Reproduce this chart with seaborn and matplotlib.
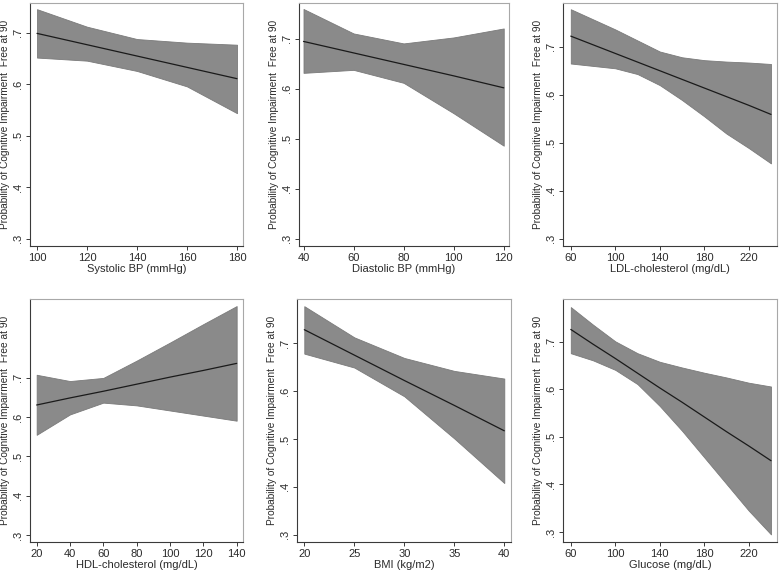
import numpy as np
import pandas as pd
import matplotlib
matplotlib.use("Agg")
import matplotlib.pyplot as plt
import seaborn as sns

# ---------------- data ----------------
ylabel_text = "Probability of Cognitive Impairment  Free at 90"
ytick_vals = [0.3, 0.4, 0.5, 0.6, 0.7]
ytick_labels = [".3", ".4", ".5", ".6", ".7"]

# Systolic BP
sbp_x = [100, 120, 140, 160, 180]
sbp_pred = [0.699, 0.677, 0.655, 0.633, 0.611]
sbp_lo = [0.652, 0.646, 0.626, 0.596, 0.544]
sbp_hi = [0.746, 0.712, 0.688, 0.681, 0.677]
sbp_ticks = [100, 120, 140, 160, 180]

# Diastolic BP
dbp_x = [40, 60, 80, 100, 120]
dbp_pred = [0.695, 0.672, 0.649, 0.626, 0.602]
dbp_lo = [0.632, 0.638, 0.612, 0.551, 0.486]
dbp_hi = [0.760, 0.711, 0.691, 0.703, 0.721]
dbp_ticks = [40, 60, 80, 100, 120]

# LDL-cholesterol
ldl_x = [60, 80, 100, 120, 140, 160, 180, 200, 220, 240]
ldl_pred = [0.722, 0.704, 0.686, 0.668, 0.650, 0.632, 0.614, 0.596, 0.578, 0.559]
ldl_lo = [0.665, 0.660, 0.655, 0.643, 0.620, 0.589, 0.555, 0.519, 0.489, 0.457]
ldl_hi = [0.778, 0.757, 0.736, 0.713, 0.690, 0.678, 0.672, 0.669, 0.667, 0.664]
ldl_ticks = [60, 100, 140, 180, 220]

# HDL-cholesterol
hdl_x = [20, 40, 60, 80, 100, 120, 140]
hdl_pred = [0.631, 0.649, 0.666, 0.684, 0.702, 0.719, 0.737]
hdl_lo = [0.555, 0.607, 0.637, 0.630, 0.617, 0.604, 0.591]
hdl_hi = [0.708, 0.692, 0.700, 0.744, 0.790, 0.837, 0.883]
hdl_ticks = [20, 40, 60, 80, 100, 120, 140]

# BMI
bmi_x = [20, 25, 30, 35, 40]
bmi_pred = [0.728, 0.675, 0.622, 0.570, 0.517]
bmi_lo = [0.678, 0.649, 0.589, 0.501, 0.408]
bmi_hi = [0.777, 0.712, 0.669, 0.642, 0.626]
bmi_ticks = [20, 25, 30, 35, 40]

# Glucose
glu_x = [60, 80, 100, 120, 140, 160, 180, 200, 220, 240]
glu_pred = [0.726, 0.695, 0.665, 0.634, 0.603, 0.573, 0.542, 0.511, 0.481, 0.450]
glu_lo = [0.676, 0.661, 0.641, 0.611, 0.565, 0.513, 0.457, 0.401, 0.345, 0.295]
glu_hi = [0.773, 0.736, 0.701, 0.676, 0.658, 0.646, 0.635, 0.625, 0.614, 0.606]
glu_ticks = [60, 100, 140, 180, 220]

panels = [
    ("Systolic BP (mmHg)", sbp_x, sbp_pred, sbp_lo, sbp_hi, sbp_ticks),
    ("Diastolic BP (mmHg)", dbp_x, dbp_pred, dbp_lo, dbp_hi, dbp_ticks),
    ("LDL-cholesterol (mg/dL)", ldl_x, ldl_pred, ldl_lo, ldl_hi, ldl_ticks),
    ("HDL-cholesterol (mg/dL)", hdl_x, hdl_pred, hdl_lo, hdl_hi, hdl_ticks),
    ("BMI (kg/m2)", bmi_x, bmi_pred, bmi_lo, bmi_hi, bmi_ticks),
    ("Glucose (mg/dL)", glu_x, glu_pred, glu_lo, glu_hi, glu_ticks),
]

# ---------------- layout / style ----------------
W, H = 780, 574
boxes = [  # left, top, right, bottom in pixels
    (30, 3, 243, 246), (299, 3, 509, 246), (563, 3, 777, 246),
    (30, 299, 243, 542), (297, 299, 511, 542), (563, 299, 777, 542),
]
xlims = [(97.2, 182.4), (38.2, 122.1), (53.0, 245.4),
         (16.0, 143.8), (19.27, 40.67), (53.0, 245.4)]
ylims = [(0.286, 0.758), (0.285, 0.772), (0.285, 0.791),
         (0.282, 0.901), (0.285, 0.792), (0.279, 0.790)]

sns.set_theme(style="ticks")
plt.rcParams["font.family"] = ["Liberation Sans", "DejaVu Sans"]

fig = plt.figure(figsize=(W / 100, H / 100), dpi=100)
fig.patch.set_facecolor("white")

band_color = "#8a8a8a"
edge_color = "#7a7a7a"
dark = "#3a3a3a"
light = "#a8a8a8"
text_color = "#2a2a2a"

for (label, xs, pred, lo, hi, xt), (l, t, r, b), xl, yl in zip(panels, boxes, xlims, ylims):
    ax = fig.add_axes([l / W, 1 - b / H, (r - l) / W, (b - t) / H])
    ax.set_facecolor("white")
    ax.fill_between(xs, lo, hi, color=band_color, edgecolor=edge_color, linewidth=0.6, zorder=1)
    df = pd.DataFrame({"x": xs, "y": pred})
    sns.lineplot(data=df, x="x", y="y", ax=ax, color="#1a1a1a", linewidth=0.9, zorder=3)
    ax.set_xlim(*xl)
    ax.set_ylim(*yl)
    ax.set_xticks(xt)
    ax.set_xticklabels([str(v) for v in xt])
    ax.set_yticks(ytick_vals)
    ax.set_yticklabels(ytick_labels, rotation=90, va="center")
    ax.set_xlabel(label, fontsize=8, color=text_color, labelpad=1)
    ax.set_ylabel(ylabel_text, fontsize=7.3, color=text_color, labelpad=2)
    ax.yaxis.label.set_y((124.5 - 4 - t) / (b - t) if False else 0.5)
    ax.tick_params(axis="both", direction="out", length=3, width=0.7,
                   colors=dark, labelsize=8, labelcolor=text_color, pad=2)
    for side in ("left", "bottom"):
        ax.spines[side].set_color(dark)
        ax.spines[side].set_linewidth(0.8)
        ax.spines[side].set_visible(True)
    for side in ("top", "right"):
        ax.spines[side].set_visible(True)
        ax.spines[side].set_color(light)
        ax.spines[side].set_linewidth(0.8)

fig.savefig("out.png", dpi=100, facecolor="white")
